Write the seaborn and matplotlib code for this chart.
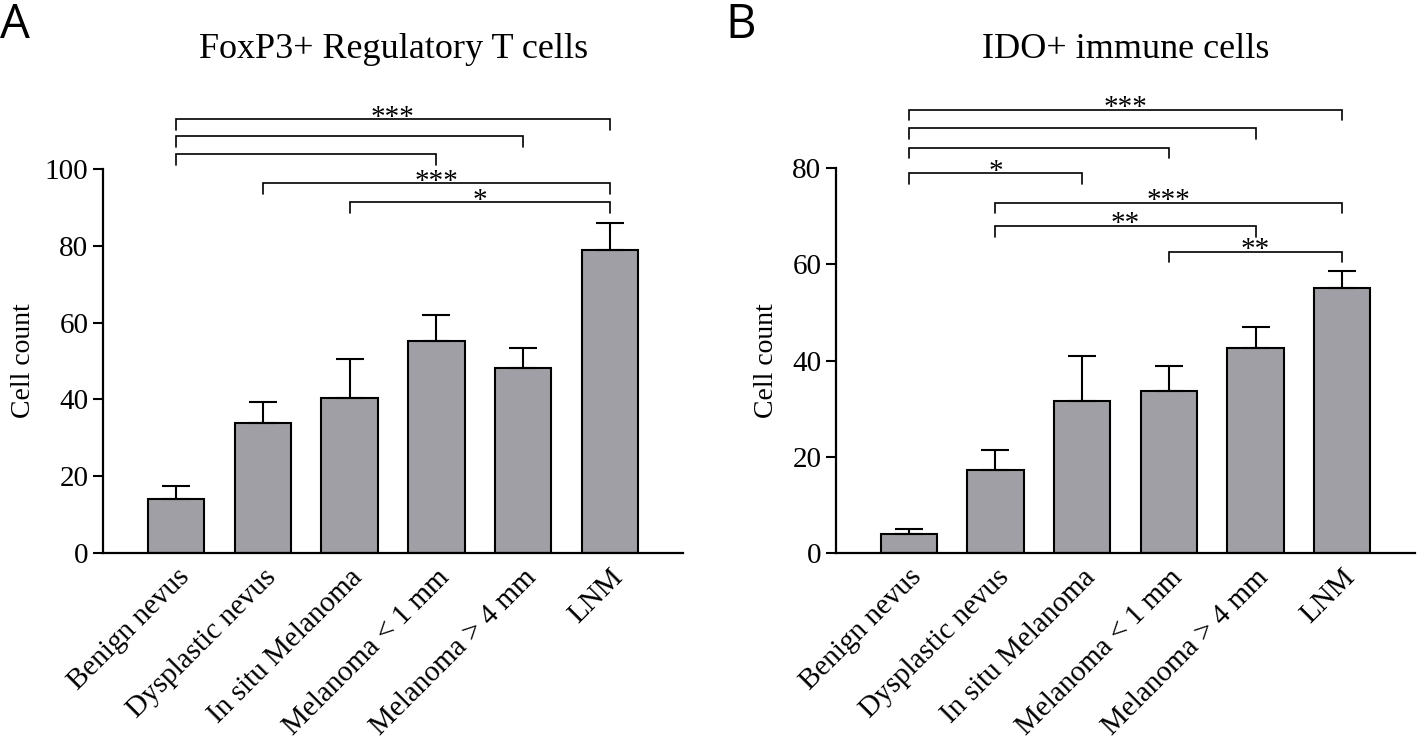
import matplotlib
matplotlib.use('Agg')
import matplotlib.pyplot as plt
import seaborn as sns
import pandas as pd


categories = ['Benign nevus', 'Dysplastic nevus', 'In situ Melanoma',
              'Melanoma < 1 mm', 'Melanoma > 4 mm', 'LNM']

# panel A - FoxP3+ Treg
foxp3_mean = [14.1, 33.8, 40.5, 55.1, 48.3, 78.9]
foxp3_sem = [3.3, 5.6, 10.0, 6.8, 5.0, 7.0]
foxp3_pairs = [(0, 5), (0, 4), (0, 3), (1, 5), (2, 5)]
foxp3_heights = [113.0, 108.5, 103.9, 96.3, 91.3]
foxp3_stars = ['***', '', '', '***', '*']

# panel B - IDO+ immune cells
ido_mean = [4.0, 17.2, 31.6, 33.6, 42.6, 55.0]
ido_sem = [1.0, 4.3, 9.4, 5.2, 4.3, 3.6]
ido_pairs = [(0, 5), (0, 4), (0, 3), (0, 2), (1, 5), (1, 4), (3, 5)]
ido_heights = [92.2, 88.3, 84.3, 79.0, 72.8, 68.0, 62.6]
ido_stars = ['***', '', '', '*', '***', '**', '**']

sns.set_theme(style='white')
plt.rcParams['font.family'] = ['Liberation Serif', 'DejaVu Serif']
plt.rcParams['text.color'] = 'black'

W, H = 1418, 749
fig = plt.figure(figsize=(W / 100, H / 100), dpi=100)

bar_col = '#a09fa5'


def panel(rect, means, sems, ymax, ytop, yticks, pairs, heights, stars,
          drop, label_x):
    ax = fig.add_axes(rect)
    df = pd.DataFrame({'group': categories, 'count': means})
    sns.barplot(data=df, x='group', y='count', color=bar_col, saturation=1,
                edgecolor='black', linewidth=1.5, width=0.65,
                errorbar=None, ax=ax)
    ax.errorbar(range(len(categories)), means,
                yerr=[[0] * len(sems), sems], fmt='none',
                ecolor='black', elinewidth=1.5, capsize=10, capthick=1.5)
    ax.set_xlim(-0.84, len(categories) - 1 + 0.84)
    ax.set_ylim(0, ytop)
    ax.set_yticks(yticks)
    ax.spines[['top', 'right']].set_visible(False)
    ax.spines['left'].set_bounds(0, ymax)
    for s in ['left', 'bottom']:
        ax.spines[s].set_linewidth(1.6)
        ax.spines[s].set_color('black')
    ax.tick_params(axis='y', length=7, width=1.5, pad=3.5, labelsize=21,
                   left=True, colors='black')
    ax.tick_params(axis='x', length=0, pad=8, labelsize=21, colors='black')
    plt.setp(ax.get_xticklabels(), rotation=45, ha='right', va='top',
             rotation_mode='anchor')
    ax.set_xlabel('')
    ax.set_ylabel('Cell count', fontsize=20, color='black')
    ax.yaxis.set_label_coords(label_x, (ymax / 2) / ytop)

    for (i, j), h, st in zip(pairs, heights, stars):
        ax.plot([i, i, j, j], [h - drop, h, h, h - drop], color='black',
                lw=1.2, clip_on=False, solid_joinstyle='miter')
        if st:
            ax.annotate(st, ((i + j) / 2, h), xytext=(0, -4),
                        textcoords='offset points', ha='center',
                        va='baseline', fontsize=21, color='black',
                        annotation_clip=False)
    return ax


top_px, base_px = 85, 553
ax_h = (base_px - top_px) / H
ax_b = (H - base_px) / H

panel([103 / W, ax_b, 580 / W, ax_h], foxp3_mean, foxp3_sem, 100, 121.9,
      [0, 20, 40, 60, 80, 100], foxp3_pairs, foxp3_heights, foxp3_stars,
      2.8, -0.115)
panel([836 / W, ax_b, 579 / W, ax_h], ido_mean, ido_sem, 80, 97.3,
      [0, 20, 40, 60, 80], ido_pairs, ido_heights, ido_stars,
      2.2, -0.098)

fig.text(394 / W, 1 - 49 / H, 'FoxP3+ Regulatory T cells', ha='center',
         va='center', fontsize=26)
fig.text(1126 / W, 1 - 49 / H, 'IDO+ immune cells', ha='center',
         va='center', fontsize=26)
fig.text(0 / W, 1 - 2 / H, 'A', ha='left', va='top', fontsize=34,
         family=['Open Sans', 'DejaVu Sans'])
fig.text(725 / W, 1 - 2 / H, 'B', ha='left', va='top', fontsize=34,
         family=['Open Sans', 'DejaVu Sans'])

fig.savefig('out.png', dpi=100)
